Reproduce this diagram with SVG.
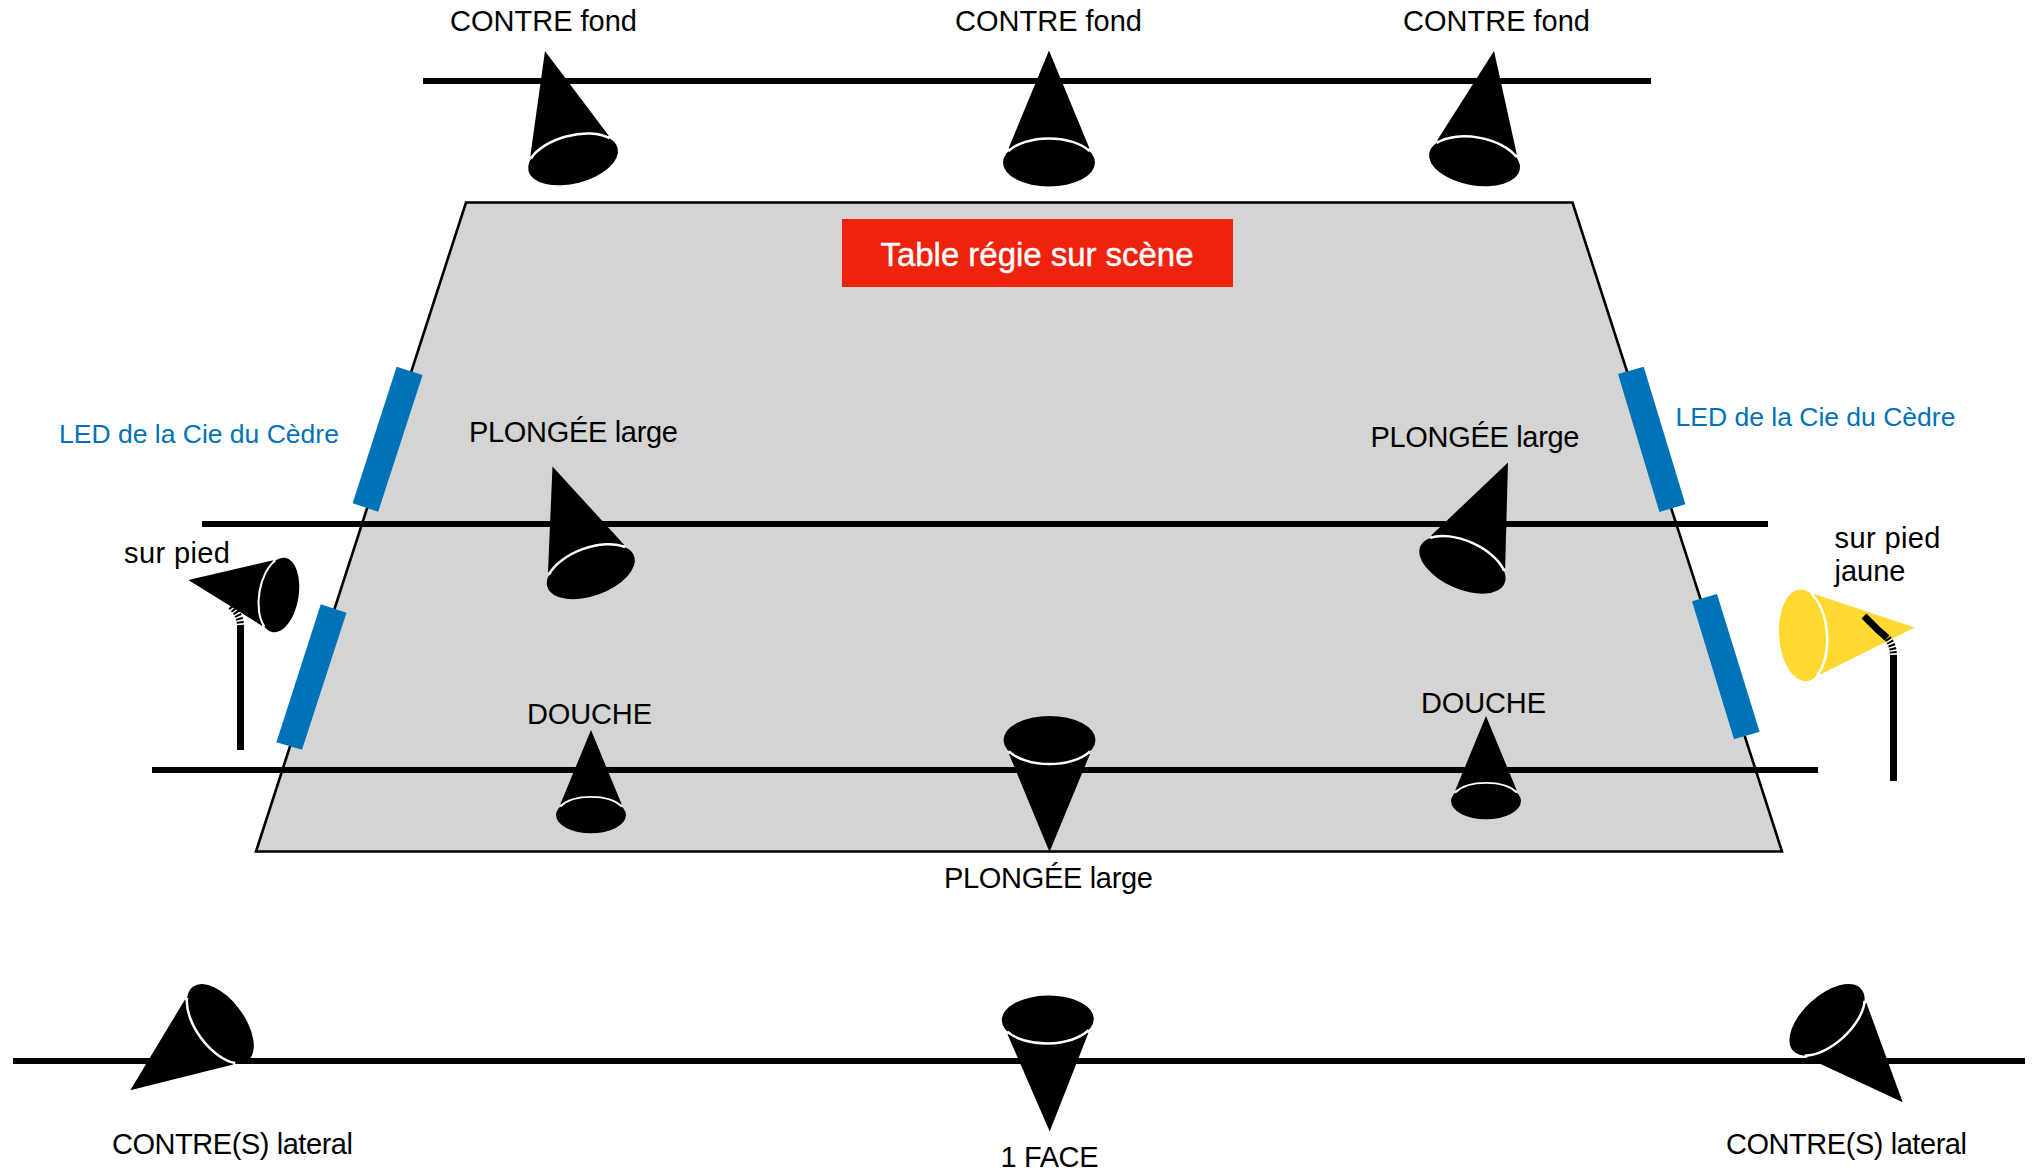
<svg xmlns="http://www.w3.org/2000/svg" xmlns:xlink="http://www.w3.org/1999/xlink" width="2038" height="1171" viewBox="0 0 2038 1171">
<style>
text{font-family:"Liberation Sans",Arial,sans-serif;font-size:29px;fill:#000}
.led{font-size:26.5px;fill:#0072B8}
.title{font-size:33px;fill:#fff;stroke:#fff;stroke-width:.4}
.rail{stroke:#000;stroke-width:6;fill:none}
.blue{fill:#0072B8}
.pole{stroke:#000;stroke-width:7;fill:none}
.spring{stroke:#000;stroke-width:7;fill:none;stroke-dasharray:2 1.6}
.arc{fill:none;stroke:#fff;stroke-width:2.5}
</style>
<defs>
<g id="lamp">
<polygon points="0,0 -40.5,98 40.5,98"/>
<ellipse cx="0" cy="112" rx="46" ry="24"/>
<path class="arc" d="M-40.5,100.6A46,24 0 0 1 40.5,100.6"/>
</g>
</defs>
<rect width="2038" height="1171" fill="#fff"/>
<g id="stage">
<polygon points="466,202.5 1572.5,202.5 1782,851.5 256,851.5" fill="#D4D4D4" stroke="#000" stroke-width="2.6" stroke-linejoin="miter"/>
</g>
<g id="regie">
<rect x="842" y="219" width="391" height="68" fill="#EF220E"/>
<text class="title" x="880.5" y="265.5" textLength="313">Table régie sur scène</text>
</g>
<g id="rails">
<line class="rail" x1="423" y1="81" x2="1651" y2="81"/>
<line class="rail" x1="202" y1="524" x2="1768" y2="524"/>
<line class="rail" x1="152" y1="770" x2="1818" y2="770"/>
<line class="rail" x1="13" y1="1061" x2="2025" y2="1061"/>
</g>
<g id="led-left-top"><polygon class="blue" points="396.6,366.7 422.6,375 378.2,511.7 352.6,503.3"/></g>
<g id="led-left-bottom"><polygon class="blue" points="320.8,604.3 346.5,612.7 302,749.8 276.4,742.2"/></g>
<g id="led-right-top"><polygon class="blue" points="1618,374 1643.7,366.7 1685.4,504.3 1659.4,512"/></g>
<g id="led-right-bottom"><polygon class="blue" points="1692,601.3 1717,594 1759.6,731.7 1734,739.3"/></g>
<g id="contre-fond-1"><use xlink:href="#lamp" href="#lamp" transform="translate(545,51) rotate(-14.5)"/><text x="450" y="31" textLength="187">CONTRE fond</text></g>
<g id="contre-fond-2"><use xlink:href="#lamp" href="#lamp" transform="translate(1049,50.5)"/><text x="955" y="31" textLength="187">CONTRE fond</text></g>
<g id="contre-fond-3"><use xlink:href="#lamp" href="#lamp" transform="translate(1494,51) rotate(10)"/><text x="1403" y="31" textLength="187">CONTRE fond</text></g>
<g id="plongee-left"><use xlink:href="#lamp" href="#lamp" transform="translate(552.5,466.5) rotate(-20)"/><text x="469" y="442" textLength="209">PLONGÉE large</text></g>
<g id="plongee-right"><use xlink:href="#lamp" href="#lamp" transform="translate(1508,462.5) rotate(24)"/><text x="1370.5" y="447" textLength="209">PLONGÉE large</text></g>
<g id="douche-left"><use xlink:href="#lamp" href="#lamp" transform="translate(591,730) scale(.76)"/><text x="527" y="724" textLength="125">DOUCHE</text></g>
<g id="douche-right"><use xlink:href="#lamp" href="#lamp" transform="translate(1486,716) scale(.76)"/><text x="1421" y="713" textLength="125">DOUCHE</text></g>
<g id="plongee-center"><use xlink:href="#lamp" href="#lamp" transform="translate(1049.5,852) rotate(180)"/><text x="944" y="888" textLength="209">PLONGÉE large</text></g>
<g id="face"><use xlink:href="#lamp" href="#lamp" transform="translate(1049.7,1131.5) rotate(179)"/><text x="1000.5" y="1167" textLength="98">1 FACE</text></g>
<g id="contre-lateral-left"><use xlink:href="#lamp" href="#lamp" transform="translate(130.3,1090.3) rotate(233.5)"/><text x="112" y="1154" textLength="241">CONTRE(S) lateral</text></g>
<g id="contre-lateral-right"><use xlink:href="#lamp" href="#lamp" transform="translate(1902.7,1102.3) rotate(137.5)"/><text x="1726" y="1154" textLength="241">CONTRE(S) lateral</text></g>
<g id="pied-left">
<line class="pole" x1="240.5" y1="627" x2="240.5" y2="750"/>
<path class="spring" d="M240.5,627C240.5,618 237,612 231,606"/>
<use xlink:href="#lamp" href="#lamp" transform="translate(188.3,580) rotate(-80.6) scale(.82)"/>
<text x="124" y="563" textLength="106">sur pied</text>
</g>
<g id="pied-right">
<use xlink:href="#lamp" href="#lamp" fill="#FFD932" transform="translate(1914.8,627.5) rotate(86)"/>
<line class="pole" x1="1893.5" y1="657" x2="1893.5" y2="781"/>
<path class="spring" d="M1893.5,657C1893.5,649 1892,644 1887.5,638"/>
<path class="pole" d="M1864,616L1878,630Q1883,634 1887,638"/>
<text x="1834.5" y="548" textLength="106">sur pied</text>
<text x="1834.5" y="581">jaune</text>
</g>
<g id="led-labels">
<text class="led" x="59" y="443">LED de la Cie du Cèdre</text>
<text class="led" x="1675.5" y="426">LED de la Cie du Cèdre</text>
</g>
</svg>
